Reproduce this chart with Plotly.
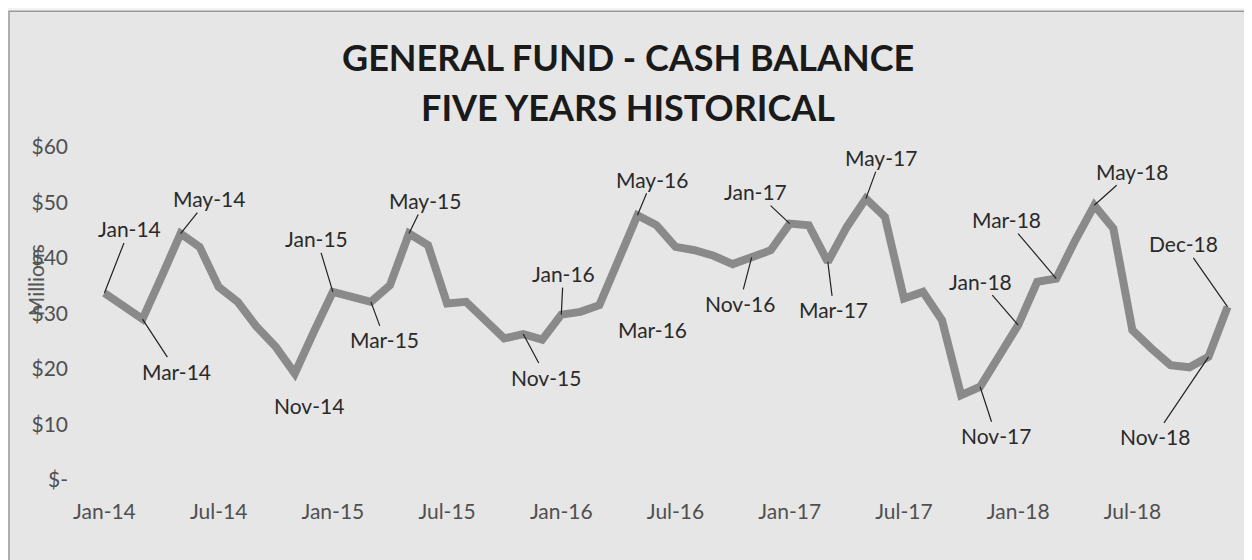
import plotly.graph_objects as go

# month labels for the x axis
years = ["14", "15", "16", "17", "18"]
month_names = ["Jan", "Feb", "Mar", "Apr", "May", "Jun",
               "Jul", "Aug", "Sep", "Oct", "Nov", "Dec"]
months = [m + "-" + y for y in years for m in month_names]

# cash balance, $ millions
balance = [
    33.7, 31.5, 29.0, 36.6, 44.4, 42.0, 34.8, 32.1, 27.6, 24.0, 19.2, 26.7,
    33.9, 33.0, 32.1, 35.1, 44.4, 42.3, 31.8, 32.1, 28.8, 25.5, 26.3, 25.3,
    29.8, 30.3, 31.5, 39.6, 47.7, 45.9, 42.0, 41.4, 40.4, 38.9, 40.1, 41.4,
    46.2, 45.9, 39.3, 45.6, 50.7, 47.4, 32.7, 33.9, 28.8, 15.3, 16.8, 22.2,
    27.9, 35.7, 36.3, 43.2, 49.5, 45.3, 27.0, 23.7, 20.7, 20.3, 22.2, 31.2,
]

labeled = ["Jan-14", "Mar-14", "May-14", "Nov-14", "Jan-15", "Mar-15", "May-15",
           "Nov-15", "Jan-16", "Mar-16", "May-16", "Nov-16", "Jan-17", "Mar-17",
           "May-17", "Nov-17", "Jan-18", "Mar-18", "May-18", "Nov-18", "Dec-18"]

x_ticks = ["Jan-14", "Jul-14", "Jan-15", "Jul-15", "Jan-16", "Jul-16",
           "Jan-17", "Jul-17", "Jan-18", "Jul-18"]
y_ticks = [0, 10, 20, 30, 40, 50, 60]
y_ticktext = ["$-", "$10", "$20", "$30", "$40", "$50", "$60"]

# label offsets in pixels (text centre relative to the point)
label_offsets = {
    "Jan-14": (25, -64), "Mar-14": (34, 52), "May-14": (28, -35),
    "Nov-14": (14, 32), "Jan-15": (-16, -53), "Mar-15": (14, 38),
    "May-15": (16, -33), "Nov-15": (23, 43), "Jan-16": (2, -41),
    "Mar-16": (53, 24), "May-16": (15, -36), "Nov-16": (-12, 46),
    "Jan-17": (-34, -32), "Mar-17": (6, 48), "May-17": (15, -41),
    "Nov-17": (16, 49), "Jan-18": (-38, -44), "Mar-18": (-50, -59),
    "May-18": (38, -34), "Nov-18": (-54, 80), "Dec-18": (-44, -63),
}
no_leader = ["Nov-14", "Mar-16"]

FONT = "Lato"

fig = go.Figure()
fig.add_trace(go.Scatter(
    x=months, y=balance, mode="lines",
    line=dict(color="#8a8a8a", width=8),
    hoverinfo="x+y",
))

for m in labeled:
    ax, ay = label_offsets[m]
    fig.add_annotation(
        x=m, y=balance[months.index(m)], text=m,
        showarrow=True, arrowhead=0, arrowwidth=1.2,
        arrowcolor="rgba(0,0,0,0)" if m in no_leader else "#222222",
        ax=ax, ay=ay, standoff=0, startstandoff=0,
        font=dict(family=FONT, size=21, color="#2a2a2a"),
    )

# title lines
for txt, ty in [("GENERAL FUND - CASH BALANCE", 1.27), ("FIVE YEARS HISTORICAL", 1.12)]:
    fig.add_annotation(x=0.467, y=ty, xref="paper", yref="paper", showarrow=False,
                       xanchor="center", yanchor="middle",
                       text="<b>" + txt + "</b>",
                       font=dict(family=FONT, size=36, color="#1a1a1a"))

# "Millions" display unit label
fig.add_annotation(x=-0.0506, y=0.6, xref="paper", yref="paper", showarrow=False,
                   xanchor="center", yanchor="middle",
                   text="Millions", textangle=-90,
                   font=dict(family=FONT, size=21, color="#555555"))

# chart frame
fig.add_shape(type="rect", xref="paper", yref="paper",
              x0=-0.0733, y0=-0.3, x1=1.03, y1=1.408,
              line=dict(color="#9a9a9a", width=1.5),
              fillcolor="#e6e6e6", layer="below")

fig.update_xaxes(
    type="category", range=[-0.6, 59.6],
    tickvals=x_ticks, ticktext=x_ticks,
    showgrid=False, zeroline=False, showline=False,
    ticks="", ticklabelstandoff=17,
    tickfont=dict(family=FONT, size=21, color="#505050"),
)
fig.update_yaxes(
    range=[0, 60], tickvals=y_ticks, ticktext=y_ticktext,
    showgrid=False, zeroline=False, showline=False,
    ticks="", ticklabelstandoff=24,
    tickfont=dict(family=FONT, size=21, color="#505050"),
)

# the page body adds an 8px margin, so the figure is 8px smaller on each side
fig.update_layout(
    width=1244, height=552,
    margin=dict(l=85, r=13, t=139, b=80),
    paper_bgcolor="#f3f3f3",
    plot_bgcolor="rgba(0,0,0,0)",
    showlegend=False,
)

fig.write_html("out.html")
